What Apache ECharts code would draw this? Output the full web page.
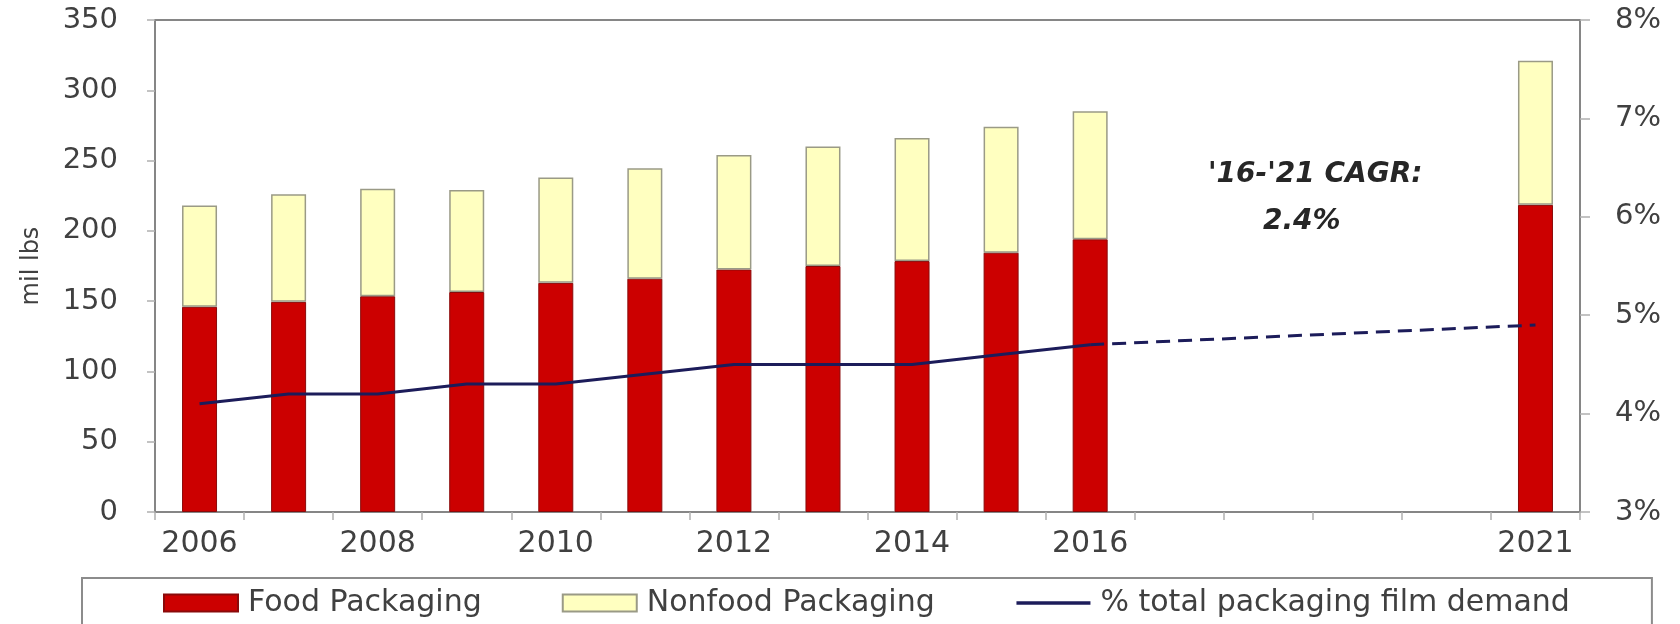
<!DOCTYPE html>
<html>
<head>
<meta charset="utf-8">
<script src="https://cdn.jsdelivr.net/npm/echarts@6/dist/echarts.min.js"></script>
<style>
html,body{margin:0;padding:0;background:#fff;}
#chart{width:1680px;height:624px;}
</style>
</head>
<body>
<div id="chart"></div>
<script>
// ---- data ----
const years = ['2006','2007','2008','2009','2010','2011','2012','2013','2014','2015','2016','2017','2018','2019','2020','2021'];
const xTickLabels = ['2006','','2008','','2010','','2012','','2014','','2016','','','','','2021'];
const foodPackaging    = [146, 149.5, 153.5, 156.5, 163, 166, 172.5, 175, 178.5, 184.5, 194, null, null, null, null, 218.5];
const nonfoodPackaging = [72, 76.5, 76.5, 72.5, 75, 78.5, 81.5, 85, 87.5, 89.5, 91, null, null, null, null, 102.5];
const filmDemandShare     = [4.1, 4.2, 4.2, 4.3, 4.3, 4.4, 4.5, 4.5, 4.5, 4.6, 4.7, null, null, null, null, null];
const filmDemandProjected = [null, null, null, null, null, null, null, null, null, null, 4.7, null, null, null, null, 4.9];
const leftTicks = {min: 0, max: 350, interval: 50};
const rightTicks = {min: 3, max: 8, interval: 1};
const seriesNames = ['Food Packaging', 'Nonfood Packaging', '% total packaging film demand'];
const annotationLines = ["'16-'21 CAGR:", '2.4%'];

const FONT = 'DejaVu Sans';
const TXT = '#404040';
const AX = '#868686';
const LINE = '#1c1c5a';

const chart = echarts.init(document.getElementById('chart'), null, {renderer: 'canvas'});
chart.setOption({
  animation: false,
  backgroundColor: '#ffffff',
  grid: {left: 155, right: 100, top: 20, bottom: 112, show: true, borderColor: AX, borderWidth: 2, backgroundColor: 'transparent'},
  legend: {
    left: 82, top: 578,
    padding: [10, 82, 40, 81],
    borderColor: '#8c8c8c', borderWidth: 2,
    itemGap: 80, itemWidth: 74, itemHeight: 17,
    textStyle: {fontFamily: FONT, fontSize: 30, color: TXT, padding: [0, 0, 0, 5]},
    data: [
      {name: seriesNames[0], icon: 'rect'},
      {name: seriesNames[1], icon: 'rect'},
      {name: seriesNames[2],
       itemStyle: {color: 'rgba(0,0,0,0)', borderColor: 'rgba(0,0,0,0)', borderWidth: 0, opacity: 0},
       lineStyle: {color: LINE, width: 3.5}}
    ]
  },
  xAxis: {
    type: 'category',
    data: years,
    boundaryGap: true,
    axisLine: {lineStyle: {color: AX, width: 2}},
    axisTick: {show: true, interval: 0, length: 8, lineStyle: {color: '#b0b0b0', width: 1.5}},
    axisLabel: {
      interval: 0, margin: 17,
      fontFamily: FONT, fontSize: 30, color: TXT,
      formatter: (v, i) => xTickLabels[i]
    },
    splitLine: {show: false}
  },
  yAxis: [
    {
      type: 'value', min: leftTicks.min, max: leftTicks.max, interval: leftTicks.interval,
      name: 'mil lbs', nameLocation: 'middle', nameRotate: 90, nameGap: 111,
      nameTextStyle: {fontFamily: FONT, fontSize: 24, color: TXT},
      axisLine: {show: true, lineStyle: {color: AX, width: 2}},
      axisTick: {show: true, length: 8, lineStyle: {color: '#b0b0b0', width: 1.5}},
      axisLabel: {margin: 37, fontFamily: FONT, fontSize: 29, color: TXT},
      splitLine: {show: false}
    },
    {
      type: 'value', min: rightTicks.min, max: rightTicks.max, interval: rightTicks.interval,
      position: 'right',
      axisLine: {show: true, lineStyle: {color: AX, width: 2}},
      axisTick: {show: true, length: 10, lineStyle: {color: '#b0b0b0', width: 1.5}},
      axisLabel: {margin: 35, fontFamily: FONT, fontSize: 29, color: TXT, formatter: '{value}%'},
      splitLine: {show: false}
    }
  ],
  series: [
    {
      name: seriesNames[0], type: 'bar', stack: 'total', barWidth: 35,
      itemStyle: {color: '#cc0000', borderColor: '#8a0a0a', borderWidth: 1},
      data: foodPackaging
    },
    {
      name: seriesNames[1], type: 'bar', stack: 'total', barWidth: 35,
      itemStyle: {color: '#ffffc0', borderColor: '#9a9a86', borderWidth: 1.5},
      data: nonfoodPackaging
    },
    {
      name: seriesNames[2], type: 'line', yAxisIndex: 1, symbol: 'none',
      lineStyle: {color: LINE, width: 3},
      itemStyle: {color: LINE},
      data: filmDemandShare, z: 5
    },
    {
      name: 'projected', type: 'line', yAxisIndex: 1, symbol: 'none', connectNulls: true,
      lineStyle: {color: LINE, width: 3, type: [14, 8]},
      itemStyle: {color: LINE},
      data: filmDemandProjected, z: 5
    }
  ],
  graphic: [
    {type: 'text', left: 1208, top: 161, style: {text: annotationLines[0], fontFamily: FONT, fontSize: 28, fontWeight: 'bold', fontStyle: 'italic', fill: '#262626'}},
    {type: 'text', left: 1263, top: 208, style: {text: annotationLines[1], fontFamily: FONT, fontSize: 28, fontWeight: 'bold', fontStyle: 'italic', fill: '#262626'}}
  ]
});
</script>
</body>
</html>
